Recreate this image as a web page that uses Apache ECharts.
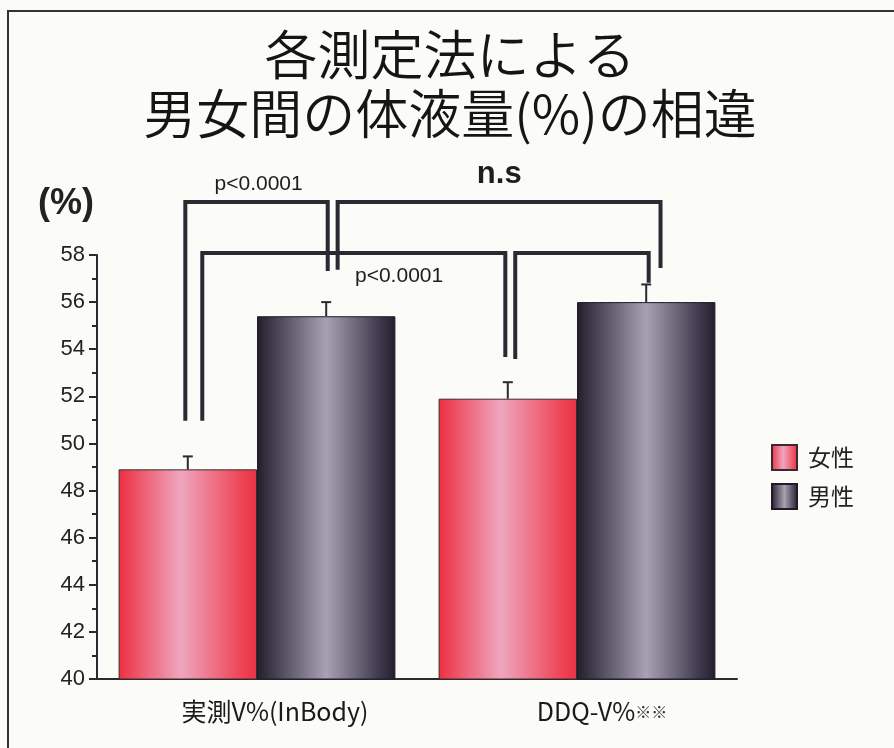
<!DOCTYPE html>
<html>
<head>
<meta charset="utf-8">
<script src="https://cdn.jsdelivr.net/npm/echarts@6/dist/echarts.min.js"></script>
<style>
  html, body { margin: 0; padding: 0; background: #fbfbf7; }
  #chart { width: 894px; height: 748px; }
</style>
</head>
<body>
<div id="chart"></div>
<script>
// Measurement methods (x categories)
const categories = ['実測V%(InBody)', 'DDQ-V%※※'];
// Body-fluid percentage, mean values
const femaleValues = [48.9, 51.9];
const maleValues = [55.4, 56.0];
// Error-bar half lengths
const femaleErrors = [0.55, 0.7];
const maleErrors = [0.6, 0.75];
// Value axis range and step
const yMin = 40, yMax = 58, yStep = 2;
const seriesNames = ['女性', '男性'];

// Significance brackets: each leg is [category, offset as share of band, value where leg ends]
const brackets = [
  { text: 'p<0.0001', bold: false, a: [0, -0.224, 50.96], b: [0, 0.221, 57.32], top: 60.25, label: [0, 0.005, 61.0] },
  { text: 'p<0.0001', bold: false, a: [0, -0.171, 50.96], b: [1, -0.224, 53.67], top: 58.09, label: [0, 0.444, 57.12] },
  { text: 'n.s', bold: true, a: [0, 0.252, 57.37], b: [1, 0.261, 57.45], top: 60.25, label: [1, -0.243, 61.42] },
  { text: '', bold: false, a: [1, -0.193, 53.59], b: [1, 0.224, 56.82], top: 58.09, label: null }
];

const CAT_GAP = 0.135;
const ink = '#2b2a33';

const redGrad = {
  type: 'linear', x: 0, y: 0, x2: 1, y2: 0,
  colorStops: [
    { offset: 0, color: '#ec3040' },
    { offset: 0.45, color: '#efa6c0' },
    { offset: 0.9, color: '#ee4252' },
    { offset: 1, color: '#e83444' }
  ]
};
const darkGrad = {
  type: 'linear', x: 0, y: 0, x2: 1, y2: 0,
  colorStops: [
    { offset: 0, color: '#221e2c' },
    { offset: 0.5, color: '#a8a1b3' },
    { offset: 0.9, color: '#3b3549' },
    { offset: 1, color: '#241f2d' }
  ]
};

function errorBarSeries(name, values, errors, side) {
  return {
    type: 'custom',
    name: name + ' SE',
    z: 5,
    clip: false,
    silent: true,
    data: values.map((v, i) => [i, v, errors[i]]),
    renderItem(params, api) {
      const cat = api.value(0), v = api.value(1), e = api.value(2);
      const band = api.size([1, 0])[0];
      const barW = band * (1 - CAT_GAP) / 2;
      const base = api.coord([cat, v]);
      const tip = api.coord([cat, v + e]);
      const x = base[0] + side * barW / 2;
      return {
        type: 'group',
        children: [
          { type: 'line', shape: { x1: x, y1: base[1], x2: x, y2: tip[1] }, style: { stroke: ink, lineWidth: 2 } },
          { type: 'line', shape: { x1: x - 5, y1: tip[1], x2: x + 5, y2: tip[1] }, style: { stroke: ink, lineWidth: 2 } }
        ]
      };
    }
  };
}

const option = {
  backgroundColor: '#fbfbf7',
  animation: false,
  title: {
    text: '各測定法による\n男女間の体液量(%)の相違',
    left: 445,
    top: 20,
    textAlign: 'center',
    textStyle: {
      fontFamily: 'Noto Sans CJK JP',
      fontSize: 53,
      fontWeight: 350,
      color: '#151515',
      lineHeight: 59
    }
  },
  graphic: [
    { type: 'rect', shape: { x: 8, y: 11, width: 900, height: 760 }, style: { fill: 'none', stroke: '#333', lineWidth: 2 }, silent: true },
    { type: 'text', left: 38, top: 186, style: { text: '(%)', font: 'bold 36px "Liberation Sans"', fill: '#222' } }
  ],
  legend: {
    orient: 'vertical',
    left: 766,
    top: 439,
    itemWidth: 25,
    itemHeight: 25,
    itemGap: 12,
    icon: 'rect',
    data: seriesNames,
    textStyle: { fontFamily: 'Noto Sans CJK JP', fontSize: 23, color: '#222', padding: [0, 0, 0, 6] }
  },
  grid: { left: 97, right: 157, top: 255, bottom: 69, containLabel: false },
  xAxis: {
    type: 'category',
    data: [
      { value: categories[0], textStyle: { padding: [0, 0, 0, 36] } },
      { value: categories[1], textStyle: { padding: [0, 0, 0, 50] } }
    ],
    axisLine: { lineStyle: { color: ink, width: 2 } },
    axisTick: { alignWithLabel: true, length: 5, lineStyle: { color: ink, width: 1 } },
    axisLabel: {
      margin: 20,
      fontFamily: 'Noto Sans CJK JP',
      fontSize: 25,
      color: '#1a1a1a',
      formatter: (v) => v.replace(/(※+)/, '{s|$1}'),
      rich: { s: { fontFamily: 'Noto Sans CJK JP', fontSize: 16, color: '#333', verticalAlign: 'middle' } }
    }
  },
  yAxis: {
    type: 'value',
    min: yMin,
    max: yMax,
    interval: yStep,
    axisLine: { show: true, lineStyle: { color: ink, width: 2 } },
    axisTick: { show: true, length: 8, lineStyle: { color: ink, width: 2 } },
    minorTick: { show: true, splitNumber: 2, length: 5, lineStyle: { color: ink, width: 2 } },
    splitLine: { show: false },
    axisLabel: { margin: 12, fontFamily: 'Liberation Sans', fontSize: 22, color: '#222' }
  },
  series: [
    {
      name: seriesNames[0],
      type: 'bar',
      data: femaleValues,
      barGap: '0%',
      barCategoryGap: (CAT_GAP * 100) + '%',
      itemStyle: { color: redGrad, borderColor: '#3a2a30', borderWidth: 1 }
    },
    {
      name: seriesNames[1],
      type: 'bar',
      data: maleValues,
      barGap: '0%',
      barCategoryGap: (CAT_GAP * 100) + '%',
      itemStyle: { color: darkGrad, borderColor: '#1e1a26', borderWidth: 1 }
    },
    errorBarSeries(seriesNames[0], femaleValues, femaleErrors, -1),
    errorBarSeries(seriesNames[1], maleValues, maleErrors, 1),
    {
      type: 'custom',
      name: 'brackets',
      z: 10,
      clip: false,
      silent: true,
      data: brackets.map((b, i) => [i]),
      renderItem(params, api) {
        const b = brackets[params.dataIndex];
        const band = api.size([1, 0])[0];
        const pt = (p) => { const c = api.coord([p[0], p[2]]); return [c[0] + p[1] * band, c[1]]; };
        const pa = pt(b.a), pb = pt(b.b);
        const ty = api.coord([0, b.top])[1];
        const children = [{
          type: 'polyline',
          shape: { points: [[pa[0], pa[1]], [pa[0], ty], [pb[0], ty], [pb[0], pb[1]]] },
          style: { stroke: ink, lineWidth: 4, fill: 'none', lineJoin: 'miter' }
        }];
        if (b.label) {
          const lp = pt(b.label);
          children.push({
            type: 'text',
            x: lp[0], y: lp[1],
            style: {
              text: b.text,
              align: 'center',
              verticalAlign: 'middle',
              font: (b.bold ? 'bold 31px' : '21px') + ' "Liberation Sans"',
              fill: '#1e1e1e'
            }
          });
        }
        return { type: 'group', children };
      }
    }
  ]
};

const chart = echarts.init(document.getElementById('chart'), null, { renderer: 'canvas' });
chart.setOption(option);
</script>
</body>
</html>
